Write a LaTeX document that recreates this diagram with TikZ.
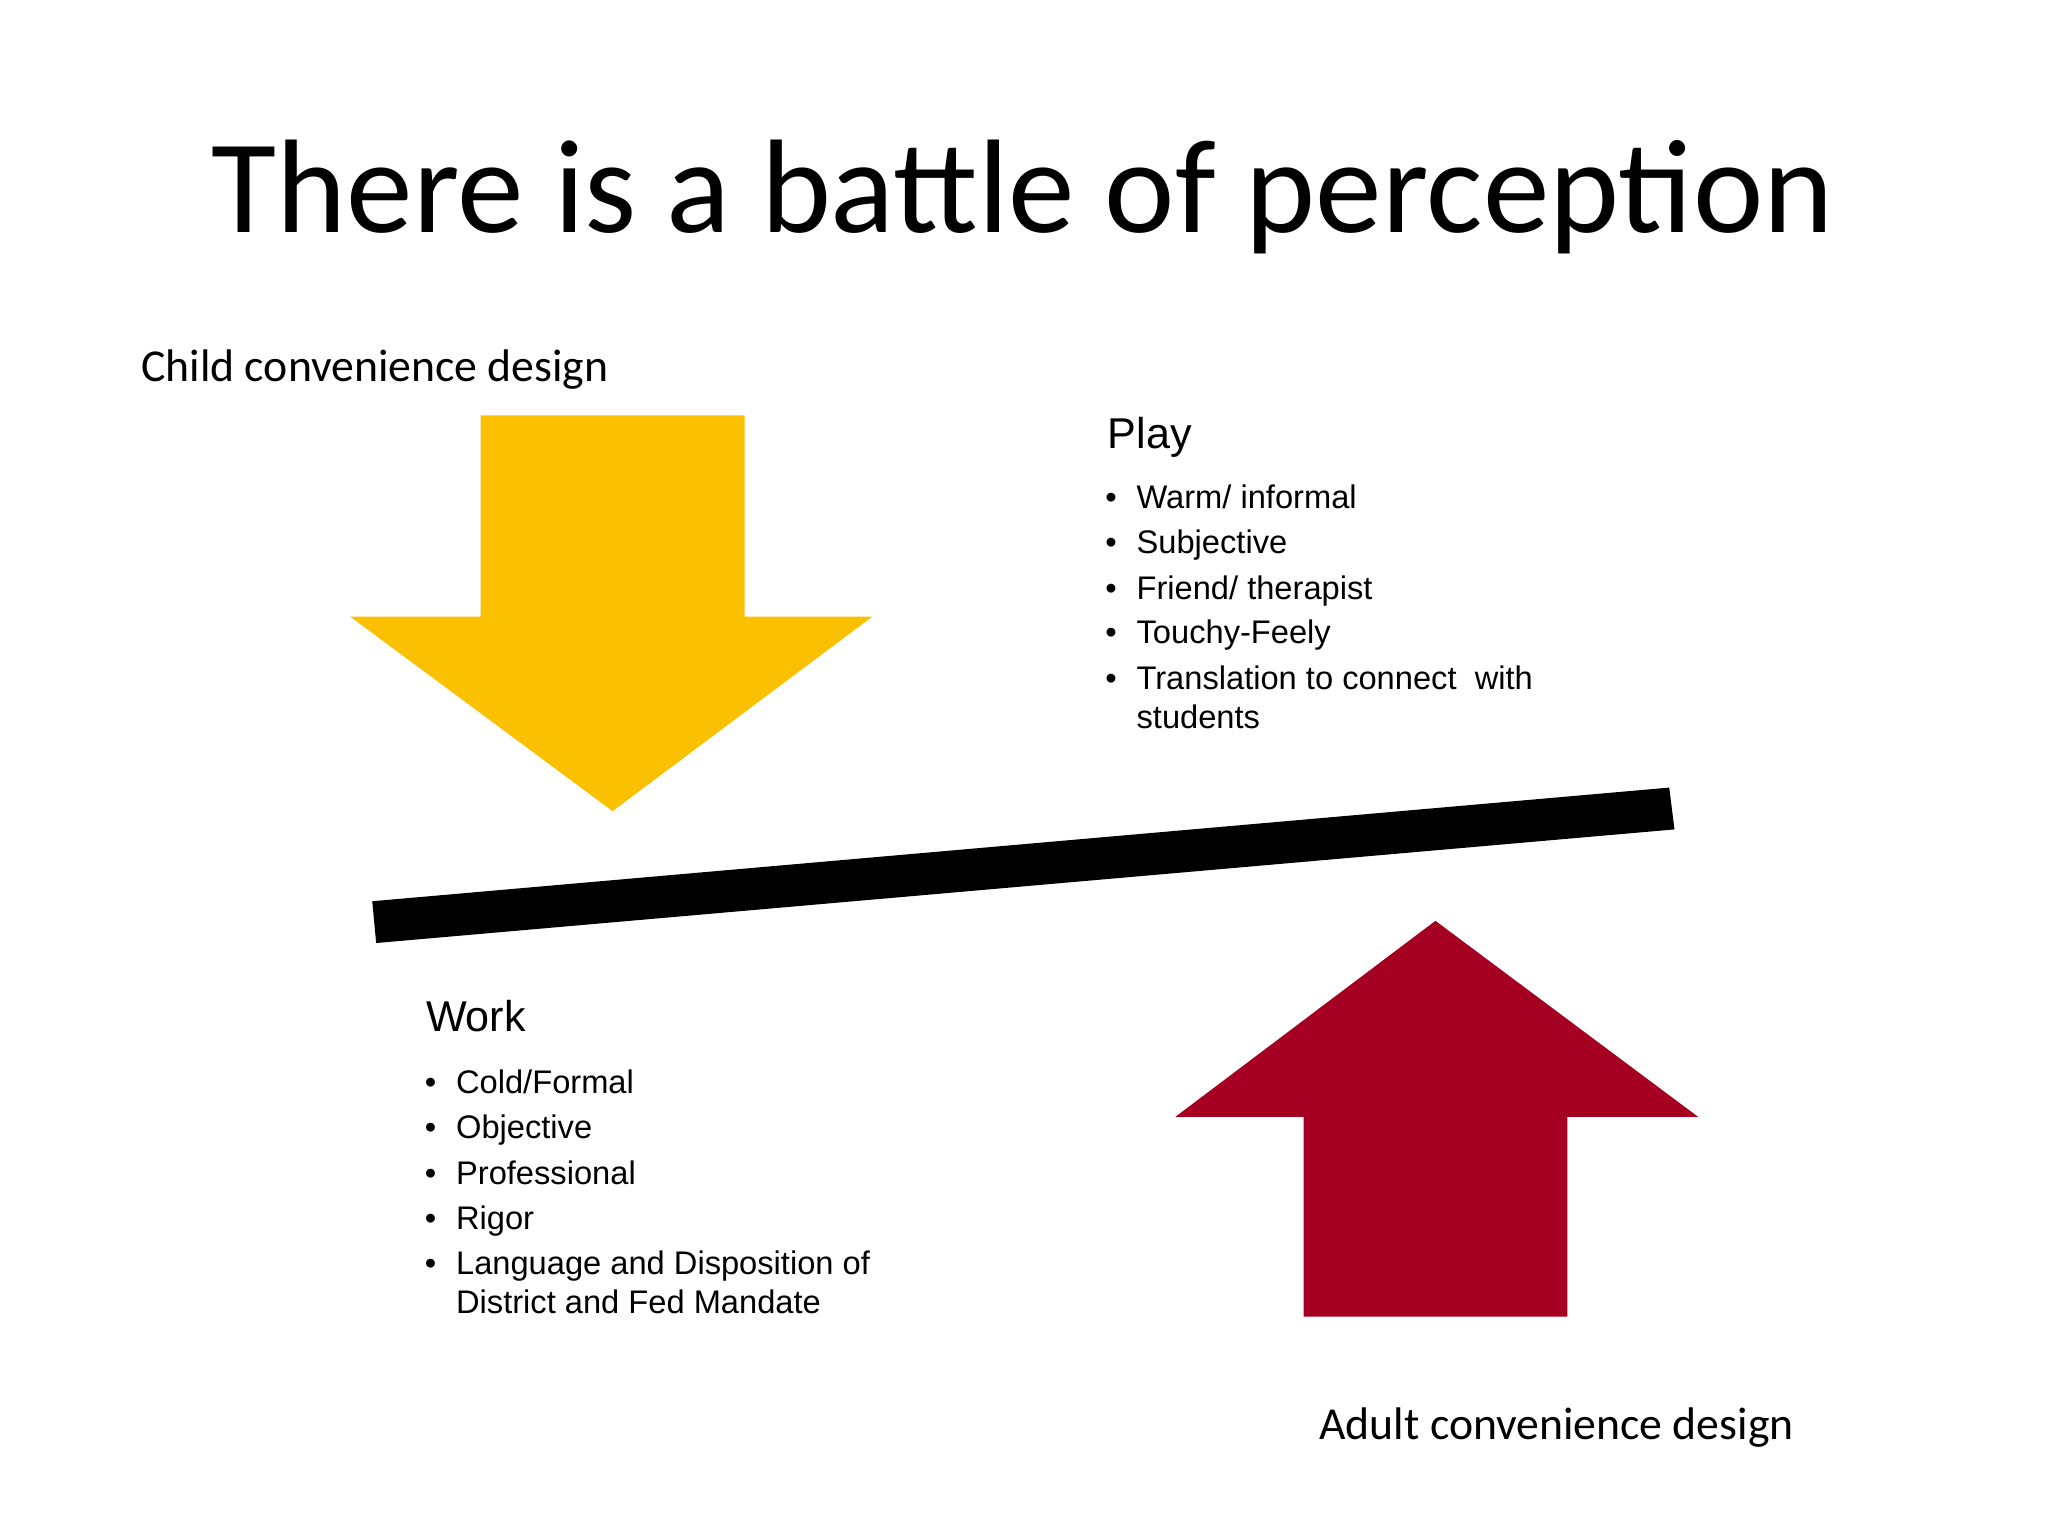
\documentclass[tikz,border=0pt]{standalone}
\usepackage{fontspec}
\setmainfont{Carlito}
\newfontfamily\arialf{Liberation Sans}
\definecolor{ylw}{HTML}{FBC000}
\definecolor{rd}{HTML}{A50021}
\begin{document}
\begin{tikzpicture}[x=1pt,y=-1pt,
  lbl/.style={anchor=base west,inner sep=0pt},
  itm/.style={anchor=base west,inner sep=0pt,font=\arialf\fontsize{25}{30}\selectfont},
  hd/.style={anchor=base west,inner sep=0pt,font=\arialf\fontsize{33}{40}\selectfont}]
\useasboundingbox (0,0) rectangle (1568,1176);
\fill[white] (0,0) rectangle (1568,1176);
\node[inner sep=0pt,anchor=base] (title) at (783,178) {\fontsize{102}{120}\selectfont There is a battle of perception};
\node[lbl] (child) at (108,292) {\fontsize{35}{42}\selectfont Child convenience design};
\node[lbl] (adult) at (1010,1102) {\fontsize{35}{42}\selectfont Adult convenience design};
\fill[ylw] (368,318) -- (570,318) -- (570,472) -- (668,472) -- (469,621) -- (268,472) -- (368,472) -- cycle;
\fill[rd] (998,1008) -- (1200,1008) -- (1200,855) -- (1300,855) -- (1099,705) -- (900,855) -- (998,855) -- cycle;
\fill[black] (285,690) -- (1278,603) -- (1282,635) -- (288,722) -- cycle;
\node[hd] (play) at (848,343) {Play};
\foreach \t/\y [count=\i] in {{Warm/ informal}/389,Subjective/424,{Friend/ therapist}/459,Touchy-Feely/493,{Translation to connect\ \ with}/528}{
  \node[itm] (pb\i) at (846,\y) {\textbullet};
  \node[itm] (p\i) at (870,\y) {\t};}
\node[itm] (p6) at (870,558) {students};
\node[hd] (work) at (326,790) {Work};
\foreach \t/\y [count=\i] in {{Cold/Formal}/837,Objective/872,Professional/907,Rigor/941,{Language and Disposition of}/976}{
  \node[itm] (wb\i) at (325,\y) {\textbullet};
  \node[itm] (w\i) at (349,\y) {\t};}
\node[itm] (w6) at (349,1006) {District and Fed Mandate};
\end{tikzpicture}
\end{document}
